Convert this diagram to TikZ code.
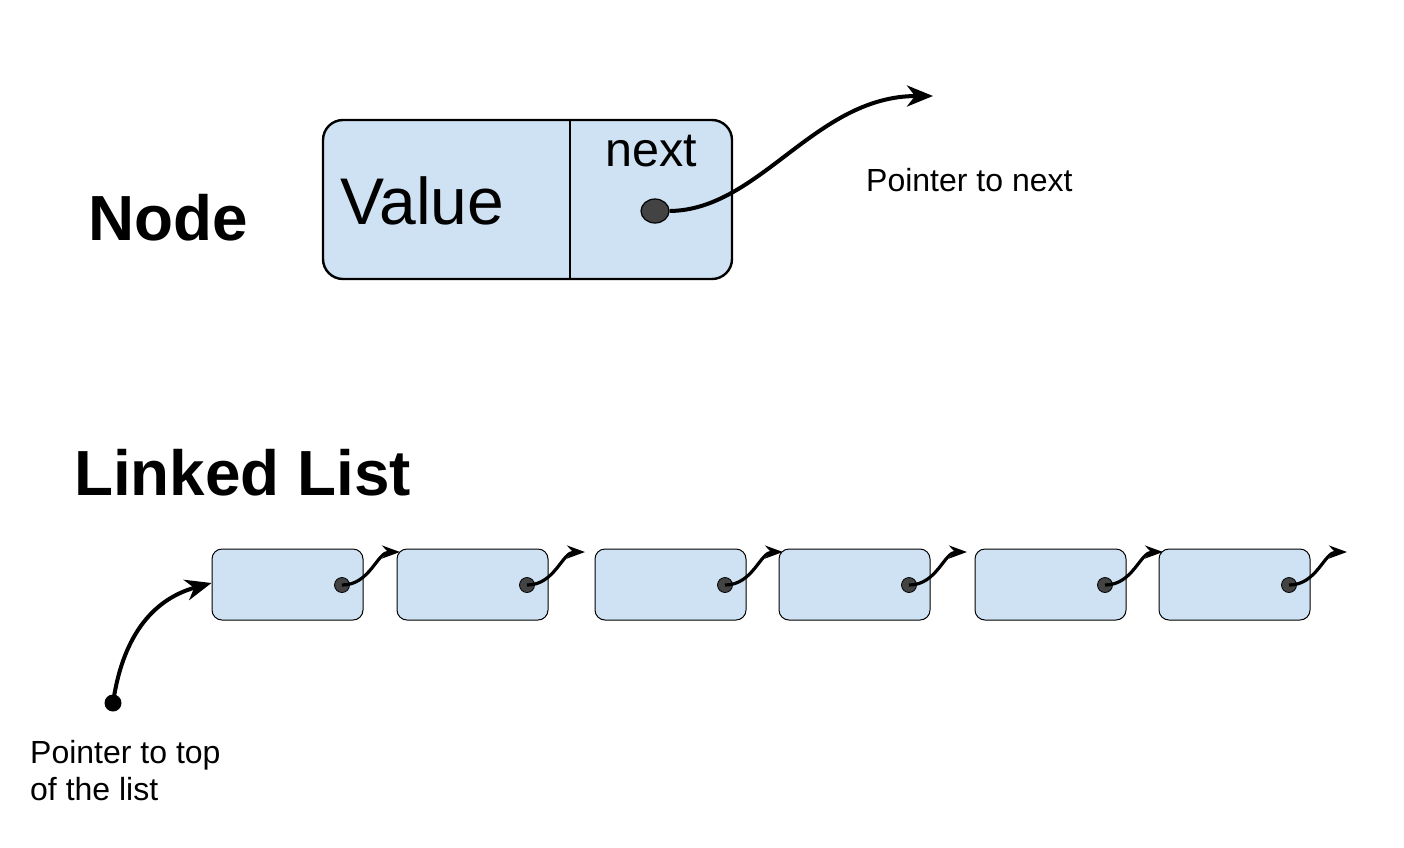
\documentclass[tikz,border=0pt]{standalone}
\usepackage{fontspec}
\setmainfont{Liberation Sans}
\usetikzlibrary{arrows.meta,shapes.geometric,calc}
\definecolor{cellblue}{HTML}{CFE2F3}
\definecolor{dotgray}{HTML}{434343}
\tikzset{
  bigcell/.style={draw=black, line width=2.4pt, fill=cellblue, rounded corners=20pt,
    minimum width=409pt, minimum height=159pt, inner sep=0pt},
  smallcell/.style={draw=black, line width=1pt, fill=cellblue, rounded corners=10pt,
    minimum width=151pt, minimum height=71pt, inner sep=0pt},
  bigdot/.style={ellipse, draw=black, line width=1.2pt, fill=dotgray,
    minimum width=28pt, minimum height=24pt, inner sep=0pt},
  smalldot/.style={circle, draw=black, line width=0.8pt, fill=dotgray,
    minimum size=15pt, inner sep=0pt},
  startdot/.style={circle, fill=black, minimum size=17pt, inner sep=0pt},
  link/.style={line width=4pt, -{Stealth[length=26pt, width=21pt, inset=8pt]}},
  smalllink/.style={line width=3.2pt, -{Stealth[length=18pt, width=13pt, inset=6pt]}},
  heading/.style={anchor=base west, inner sep=0pt, font=\fontsize{63.8}{70}\selectfont\bfseries},
  label/.style={anchor=base west, inner sep=0pt, font=\fontsize{32}{37}\selectfont, align=left},
}
\begin{document}
\begin{tikzpicture}[x=1pt, y=-1pt]
\useasboundingbox (0,0) rectangle (1404,847);

% ---- single node ----
\node[heading] (nodetitle) at (88,240) {Node};
\node[bigcell] (cell) at (527.5,199.5) {};
\coordinate (divtop) at (570,120);
\coordinate (divbot) at (570,279);
\draw[line width=2.2pt] (divtop) -- (divbot);
\node[anchor=base west, inner sep=0pt, font=\fontsize{66}{70}\selectfont] (value) at (340,224) {Value};
\node[anchor=base west, inner sep=0pt, font=\fontsize{48.5}{52}\selectfont] (next) at (605,166) {next};
\node[bigdot] (dot) at (655,211) {};
\coordinate (nexttip) at (933,96);
\draw[link] (dot.east) .. controls (760,210) and (815,96) .. (nexttip);
\node[label] (ptrnext) at (866,191) {Pointer to next};

% ---- linked list ----
\node[heading] (listtitle) at (74,495) {Linked List};
\foreach \i/\l in {1/212, 2/397, 3/595, 4/779, 5/975, 6/1159} {
  \node[smallcell] (b\i) at ({\l+75.5},584.5) {};
  \node[smalldot] (d\i) at ({\l+130},585) {};
  \coordinate (t\i) at ({\l+188},552);
  \draw[smalllink] (d\i.center) .. controls ({\l+158},585) and ({\l+165},552) .. (t\i);
}
\node[startdot] (start) at (113,703) {};
\draw[link] (start.center) .. controls (122,640) and (150,600) .. (b1.west |- 0,583);
\node[label] (ptrtop) at (30,800) {Pointer to top\\of the list};
\end{tikzpicture}
\end{document}
